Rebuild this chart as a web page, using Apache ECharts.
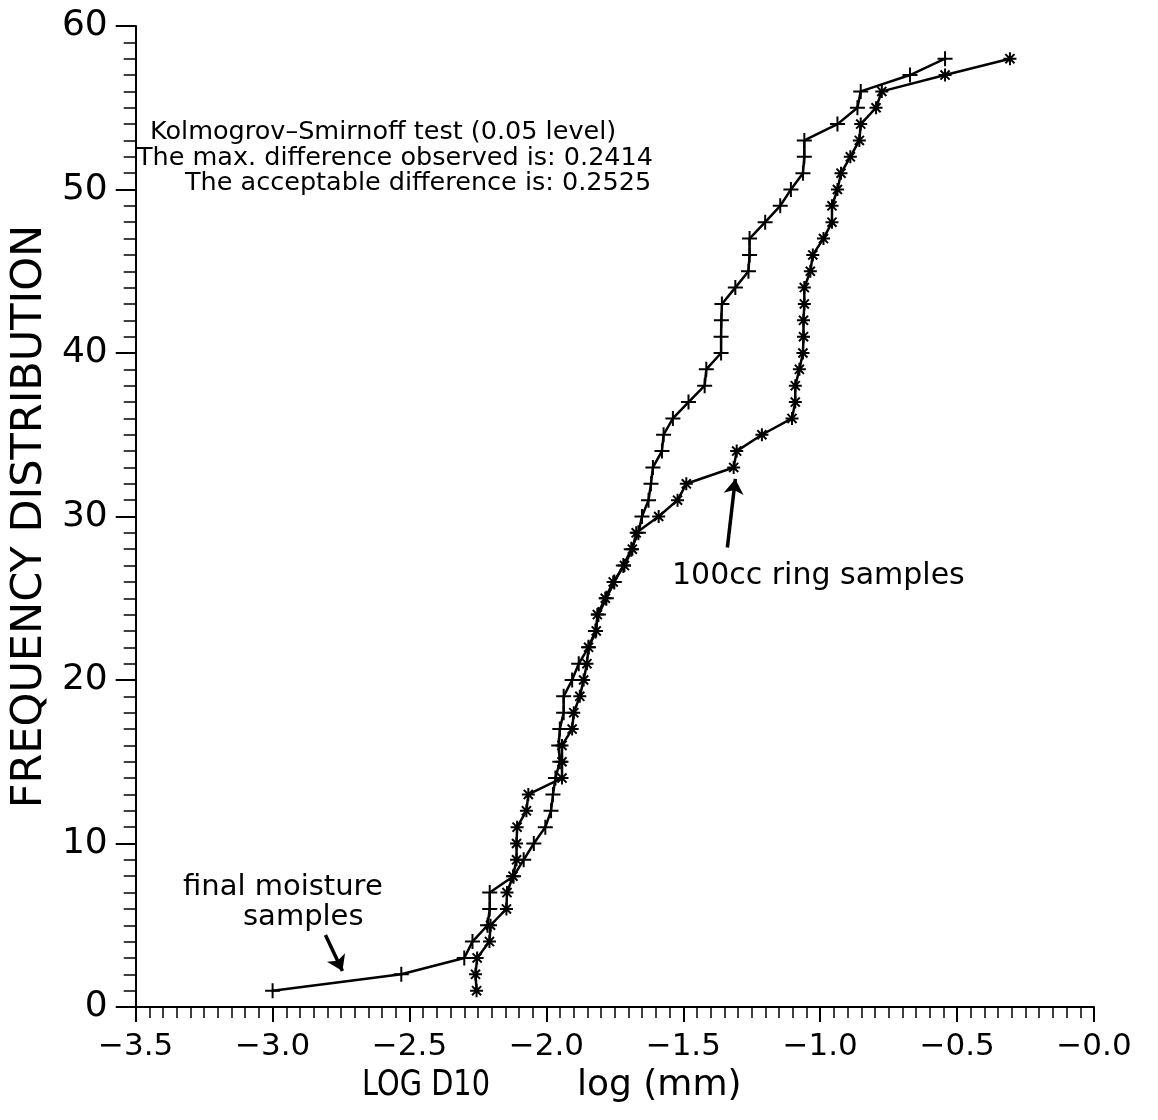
<!DOCTYPE html>
<html>
<head>
<meta charset="utf-8">
<script src="https://cdn.jsdelivr.net/npm/echarts@6/dist/echarts.min.js"></script>
<style>
html, body { margin: 0; padding: 0; background: #fff; }
#chart { width: 1158px; height: 1120px; }
</style>
</head>
<body>
<div id="chart"></div>
<script>
// cumulative sample count (y) shared by both curves
const counts = [1, 2, 3, 4, 5, 6, 7, 8, 9, 10, 11, 12, 13, 14, 15, 16, 17, 18, 19, 20,
	21, 22, 23, 24, 25, 26, 27, 28, 29, 30, 31, 32, 33, 34, 35, 36, 37, 38, 39, 40,
	41, 42, 43, 44, 45, 46, 47, 48, 49, 50, 51, 52, 53, 54, 55, 56, 57, 58]

// LOG D10 of final moisture samples (+)
const finalMoistureX = [-3.00, -2.53, -2.30, -2.27, -2.215, -2.207, -2.207, -2.12, -2.083, -2.046,
	-2.004, -1.983, -1.976, -1.967, -1.951, -1.955, -1.951, -1.937, -1.937, -1.906,
	-1.882, -1.846, -1.821, -1.81, -1.781, -1.752, -1.719, -1.69, -1.664, -1.651,
	-1.627, -1.618, -1.611, -1.578, -1.572, -1.538, -1.481, -1.422, -1.416, -1.362,
	-1.362, -1.361, -1.359, -1.31, -1.262, -1.258, -1.258, -1.201, -1.146, -1.107,
	-1.063, -1.058, -1.058, -0.937, -0.864, -0.852, -0.672, -0.544]

// LOG D10 of 100cc ring samples (*)
const ringX = [-2.255, -2.259, -2.253, -2.208, -2.204, -2.146, -2.144, -2.122, -2.109, -2.109,
	-2.107, -2.073, -2.066, -1.943, -1.943, -1.943, -1.906, -1.90, -1.878, -1.864,
	-1.852, -1.846, -1.818, -1.814, -1.785, -1.756, -1.715, -1.686, -1.672, -1.59,
	-1.521, -1.489, -1.316, -1.305, -1.213, -1.103, -1.091, -1.091, -1.076, -1.063,
	-1.061, -1.061, -1.058, -1.058, -1.036, -1.027, -0.988, -0.957, -0.957, -0.937,
	-0.924, -0.89, -0.857, -0.852, -0.796, -0.775, -0.544, -0.307]

// annotation arrows (tail, head) in data units
const ringArrow = [[-1.339, 28.1], [-1.31, 32.3]]
const moistureArrow = [[-2.807, 4.4], [-2.745, 2.2]]

const ksLines = [
	'Kolmogrov\u2013Smirnoff test (0.05 level)',
	'The max. difference observed is: 0.2414',
	'The acceptable difference is: 0.2525'
]

const FONT = 'DejaVu Sans'
const plusPath = 'path://M5,0 L5,10 M0,5 L10,5'
const starPath = 'path://M5,0 L5,10 M0,5 L10,5 M1.5,1.5 L8.5,8.5 M1.5,8.5 L8.5,1.5'

const fmtTick = v => (v <= 0 ? '\u2212' : '') + Math.abs(v).toFixed(1)

const chart = echarts.init(document.getElementById('chart'))

const arrowLine = (pts) => ({
	silent: true,
	animation: false,
	symbol: ['none', 'arrow'],
	symbolSize: 15,
	label: { show: false },
	lineStyle: { color: '#000', width: 3.5, type: 'solid' },
	data: [[{ coord: pts[0] }, { coord: pts[1] }]]
})

const option = {
	backgroundColor: '#fff',
	animation: false,
	grid: { left: 135, right: 64, top: 26, bottom: 113, containLabel: false },
	xAxis: {
		type: 'value',
		min: -3.5,
		max: 0,
		interval: 0.5,
		axisLine: { show: true, onZero: false, lineStyle: { color: '#000', width: 2 } },
		axisTick: { show: true, length: 15, lineStyle: { color: '#000', width: 2 } },
		minorTick: { show: true, splitNumber: 10, length: 11, lineStyle: { color: '#000', width: 1.5 } },
		splitLine: { show: false },
		axisLabel: { color: '#000', fontSize: 31, fontFamily: FONT, margin: 24, formatter: fmtTick }
	},
	yAxis: {
		type: 'value',
		min: 0,
		max: 60,
		interval: 10,
		name: 'FREQUENCY DISTRIBUTION',
		nameLocation: 'middle',
		nameGap: 78,
		nameTextStyle: { color: '#000', fontSize: 43, fontFamily: FONT },
		axisLine: { show: true, onZero: false, lineStyle: { color: '#000', width: 2 } },
		axisTick: { show: true, length: 20, lineStyle: { color: '#000', width: 2 } },
		minorTick: { show: true, splitNumber: 10, length: 12, lineStyle: { color: '#000', width: 1.5 } },
		splitLine: { show: false },
		axisLabel: { color: '#000', fontSize: 36, fontFamily: FONT, margin: 28 }
	},
	graphic: [
		{ type: 'text', left: 150, top: 119, style: { text: ksLines[0], font: '25.5px ' + FONT, fill: '#000' } },
		{ type: 'text', left: 137, top: 145, style: { text: ksLines[1], font: '25.5px ' + FONT, fill: '#000' } },
		{ type: 'text', left: 185, top: 170, style: { text: ksLines[2], font: '25.5px ' + FONT, fill: '#000' } },
		{ type: 'text', left: 672, top: 561, style: { text: '100cc ring samples', font: '30px ' + FONT, fill: '#000' } },
		{ type: 'text', left: 183, top: 873, style: { text: 'final moisture', font: '29px ' + FONT, fill: '#000' } },
		{ type: 'text', left: 243, top: 903, style: { text: 'samples', font: '29px ' + FONT, fill: '#000' } },
		{ type: 'text', left: 362, top: 1068, scaleX: 0.8, style: { text: 'LOG D10', font: '36px ' + FONT, fill: '#000' } },
		{ type: 'text', left: 577, top: 1068, style: { text: 'log (mm)', font: '36px ' + FONT, fill: '#000' } }
	],
	series: [
		{
			name: 'final moisture samples',
			type: 'line',
			data: counts.map((c, i) => [finalMoistureX[i], c]),
			symbol: plusPath,
			symbolSize: 15,
			showAllSymbol: true,
			lineStyle: { color: '#000', width: 2.5 },
			itemStyle: { color: '#000', borderColor: '#000', borderWidth: 2 },
			markLine: arrowLine(moistureArrow)
		},
		{
			name: '100cc ring samples',
			type: 'line',
			data: counts.map((c, i) => [ringX[i], c]),
			symbol: starPath,
			symbolSize: 13,
			showAllSymbol: true,
			lineStyle: { color: '#000', width: 2.5 },
			itemStyle: { color: '#000', borderColor: '#000', borderWidth: 2 },
			markLine: arrowLine(ringArrow)
		}
	]
}

chart.setOption(option)
</script>
</body>
</html>
